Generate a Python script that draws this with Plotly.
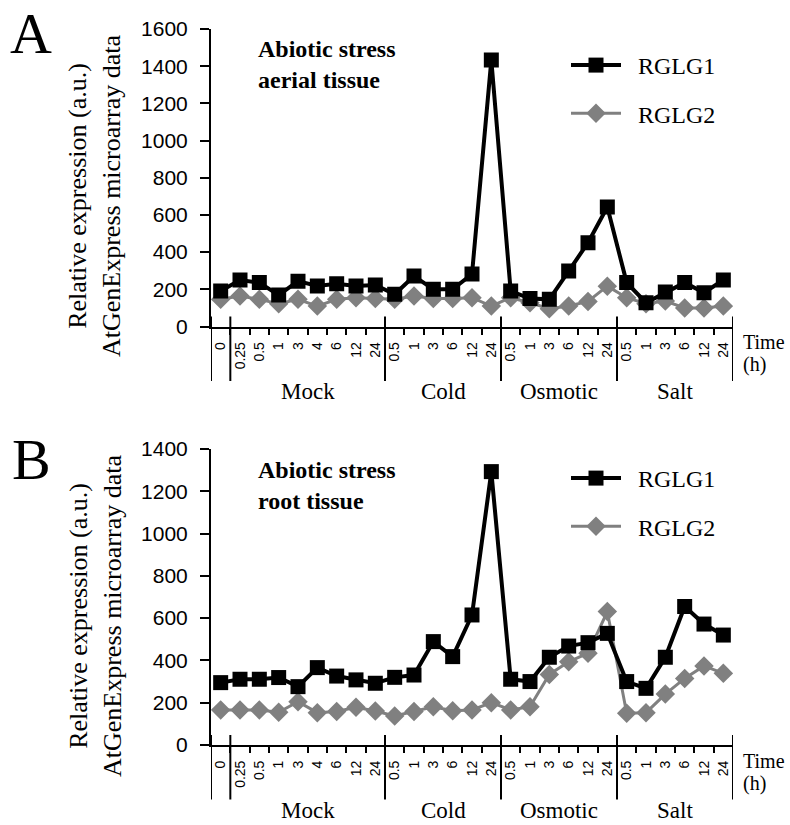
import plotly.graph_objects as go

W, H = 790, 825

# ---------------- data ----------------
group_names = ["", "Mock", "Cold", "Osmotic", "Salt"]
group_times = [
    ["0"],
    ["0.25", "0.5", "1", "3", "4", "6", "12", "24"],
    ["0.5", "1", "3", "6", "12", "24"],
    ["0.5", "1", "3", "6", "12", "24"],
    ["0.5", "1", "3", "6", "12", "24"],
]
time_labels = [t for g in group_times for t in g]

A_RGLG1 = [191, 250, 236, 169, 244, 218, 230, 218, 223,
           173, 271, 200, 200, 282, 1433,
           191, 150, 146, 298, 451, 643,
           236, 128, 185, 236, 182, 250]
A_RGLG2 = [146, 164, 146, 123, 146, 110, 146, 155, 150,
           146, 164, 150, 150, 155, 110,
           155, 128, 96, 110, 135, 217,
           155, 123, 137, 100, 100, 110]

B_RGLG1 = [295, 311, 311, 319, 276, 366, 326, 308, 292,
           320, 331, 489, 418, 615, 1293,
           311, 300, 415, 468, 484, 528,
           300, 268, 415, 655, 572, 520]
B_RGLG2 = [166, 166, 166, 155, 205, 153, 158, 178, 161,
           137, 158, 181, 162, 166, 200,
           166, 181, 334, 394, 434, 631,
           150, 153, 241, 315, 374, 339]

panel_titles = ["Abiotic stress<br>aerial tissue", "Abiotic stress<br>root tissue"]
panel_letters = ["A", "B"]
y_max = [1600, 1400]

# ---------------- helpers ----------------
def X(px):
    return px / W

def Y(py):
    return 1 - py / H

SERIF = "Liberation Serif"
SANS = "Liberation Sans"

idx = list(range(len(time_labels)))

fig = go.Figure()

panels = [
    dict(top=29, bottom=326.5, xa="x", ya="y", legend="legend"),
    dict(top=449, bottom=745, xa="x2", ya="y2", legend="legend2"),
]
series = [(A_RGLG1, A_RGLG2), (B_RGLG1, B_RGLG2)]

for p, (s1, s2) in zip(panels, series):
    fig.add_trace(go.Scatter(
        x=idx, y=s2, name="\u00a0\u00a0RGLG2", mode="lines+markers",
        xaxis=p["xa"], yaxis=p["ya"], legend=p["legend"], legendrank=2,
        legendgroup=p["ya"] + "g2",
        line=dict(color="#808080", width=3),
        marker=dict(symbol="diamond", size=15, color="#808080"),
    ))
    fig.add_trace(go.Scatter(
        x=idx, y=s1, name="\u00a0\u00a0RGLG1", mode="lines+markers",
        xaxis=p["xa"], yaxis=p["ya"], legend=p["legend"], legendrank=1,
        legendgroup=p["ya"] + "g1",
        line=dict(color="black", width=4),
        marker=dict(symbol="square", size=15, color="black"),
    ))

xdom = [X(211), X(733)]
xaxis_common = dict(
    domain=xdom, range=[-0.5, len(time_labels) - 0.5], automargin=False,
    tickmode="array", tickvals=idx, ticktext=time_labels,
    tickangle=-90, ticks="", ticklabelstandoff=8,
    tickfont=dict(family=SANS, size=14, color="black"),
    showline=True, linecolor="black", linewidth=2,
    showgrid=False, zeroline=False,
    minor=dict(tickmode="array", tickvals=[i + 0.5 for i in idx[:-1]],
               ticks="outside", ticklen=6, tickwidth=2, tickcolor="black",
               showgrid=False),
)
yaxis_common = dict(
    dtick=200, ticks="outside", ticklen=9, tickwidth=2, tickcolor="black",
    ticklabelstandoff=8, automargin=False,
    tickfont=dict(family=SANS, size=21, color="black"),
    showline=True, linecolor="black", linewidth=2,
    showgrid=False, zeroline=False,
)

fig.update_layout(
    xaxis=dict(**xaxis_common, anchor="y"),
    xaxis2=dict(**xaxis_common, anchor="y2"),
    yaxis=dict(**yaxis_common, domain=[Y(326.5), Y(29)], range=[0, y_max[0]], anchor="x"),
    yaxis2=dict(**yaxis_common, domain=[Y(745), Y(449)], range=[0, y_max[1]], anchor="x2"),
)

shapes = []
annotations = []

bounds = [-0.5]
acc = -0.5
for g in group_times:
    acc += len(g)
    bounds.append(acc)
centers = [(bounds[i] + bounds[i + 1]) / 2 for i in range(len(group_times))]

for k, p in enumerate(panels):
    ax = p["bottom"]
    xref = p["xa"]
    for b in bounds:
        shapes.append(dict(type="line", xref=xref, yref="paper",
                           x0=b, x1=b, y0=Y(ax - 10), y1=Y(ax + 54.5),
                           line=dict(color="black", width=2)))
    for name, c in zip(group_names, centers):
        if name:
            annotations.append(dict(text=name, xref=xref, yref="paper", x=c, y=Y(ax + 65),
                                    xanchor="center", yanchor="middle", showarrow=False,
                                    font=dict(family=SERIF, size=23, color="black")))
    annotations.append(dict(text="Time", xref="paper", yref="paper", x=X(741), y=Y(ax + 15.5),
                            xanchor="left", yanchor="middle", showarrow=False,
                            font=dict(family=SERIF, size=20, color="black")))
    annotations.append(dict(text="(h)", xref="paper", yref="paper", x=X(741), y=Y(ax + 38),
                            xanchor="left", yanchor="middle", showarrow=False,
                            font=dict(family=SERIF, size=20, color="black")))
    annotations.append(dict(text=panel_titles[k], xref="paper", yref="paper",
                            x=X(256), y=Y(p["top"] + 36), xanchor="left", yanchor="middle",
                            align="left", showarrow=False,
                            font=dict(family=SERIF, size=24, color="black", weight="bold")))
    annotations.append(dict(text=panel_letters[k], xref="paper", yref="paper",
                            x=X(31), y=Y(p["top"] + 4 + (0 if k == 0 else 6)),
                            xanchor="center", yanchor="middle", showarrow=False,
                            font=dict(family=SERIF, size=58, color="black")))
    annotations.append(dict(text="Relative expression (a.u.)<br>AtGenExpress microarray data",
                            xref="paper", yref="paper", x=X(95), y=Y(p["top"] + 167),
                            xanchor="center", yanchor="middle", textangle=-90,
                            showarrow=False,
                            font=dict(family=SERIF, size=26, color="black")))

legend_common = dict(
    font=dict(family=SERIF, size=24, color="black"),
    bgcolor="rgba(0,0,0,0)", itemwidth=50,
    traceorder="grouped", xanchor="left", yanchor="top",
)
fig.update_layout(
    legend=dict(**legend_common, x=X(566), y=Y(43), tracegroupgap=14),
    legend2=dict(**legend_common, x=X(566), y=Y(456), tracegroupgap=14),
    shapes=shapes, annotations=annotations,
    width=W, height=H, margin=dict(l=0, r=0, t=0, b=0, autoexpand=False),
    paper_bgcolor="white", plot_bgcolor="white",
    showlegend=True,
)

fig.write_html("out.html")
